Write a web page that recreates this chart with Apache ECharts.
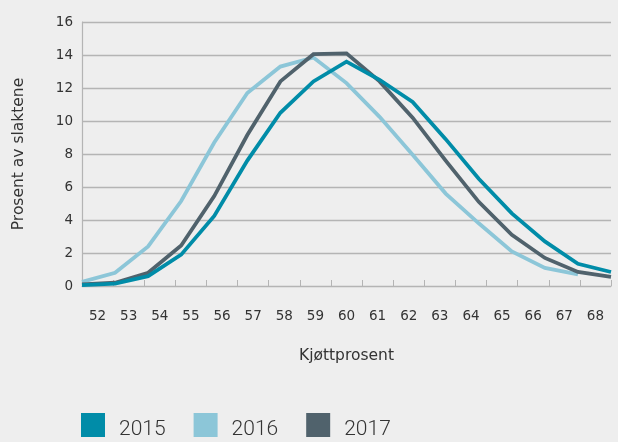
<!DOCTYPE html>
<html>
<head>
<meta charset="utf-8">
<script src="https://cdn.jsdelivr.net/npm/echarts@6/dist/echarts.min.js"></script>
<style>
  html, body { margin: 0; padding: 0; background: #eeeeee; }
  #main { width: 618px; height: 442px; }
</style>
</head>
<body>
<div id="main"></div>
<script>
// Kjøttprosent categories and share of carcasses (%) per year
const categories = ['52','53','54','55','56','57','58','59','60','61','62','63','64','65','66','67','68'];
const years = ['2015', '2016', '2017'];
const values2015 = [0.05, 0.15, 0.6, 1.9, 4.25, 7.6, 10.5, 12.4, 13.6, 12.5, 11.15, 8.9, 6.5, 4.4, 2.7, 1.35, 0.85];
const values2016 = [0.25, 0.8, 2.4, 5.15, 8.7, 11.7, 13.3, 13.85, 12.3, 10.25, 7.95, 5.6, 3.8, 2.1, 1.1, 0.7, null];
const values2017 = [0.1, 0.2, 0.8, 2.45, 5.45, 9.15, 12.4, 14.05, 14.1, 12.4, 10.2, 7.6, 5.1, 3.1, 1.7, 0.85, 0.55];
const yTicks = { min: 0, max: 16, interval: 2 };

const colors = { '2015': '#008ca8', '2016': '#8cc6d8', '2017': '#50626c' };
const gridGray = '#b4b4b4';
const textColor = '#333333';

const chart = echarts.init(document.getElementById('main'));

function lineSeries(name, data, z) {
  return {
    name: name,
    type: 'line',
    xAxisIndex: 1,
    data: data,
    z: z,
    symbol: 'none',
    connectNulls: false,
    lineStyle: { width: 3.8, color: colors[name], join: 'miter' },
    itemStyle: { color: colors[name] }
  };
}

chart.setOption({
  backgroundColor: '#eeeeee',
  animation: false,
  grid: { left: 82, right: 7, top: 22, bottom: 156 },
  legend: {
    data: years,
    left: 76,
    top: 408,
    icon: 'rect',
    itemWidth: 24,
    itemHeight: 24,
    itemGap: 28,
    formatter: '{t|{name}}',
    textStyle: {
      color: textColor,
      rich: {
        t: {
          fontFamily: 'Roboto',
          fontWeight: 300,
          fontSize: 21,
          color: textColor,
          padding: [10, 0, 0, 9]
        }
      }
    }
  },
  xAxis: [
    {
      type: 'category',
      data: categories,
      boundaryGap: true,
      name: 'Kjøttprosent',
      nameLocation: 'middle',
      nameGap: 62,
      nameTextStyle: { fontFamily: 'DejaVu Sans', fontSize: 15.5, color: textColor },
      axisLine: { show: true, lineStyle: { color: gridGray, width: 1.2 } },
      axisTick: { show: true, inside: true, length: 6, interval: 0, lineStyle: { color: gridGray } },
      axisLabel: { interval: 0, margin: 23, fontFamily: 'DejaVu Sans', fontSize: 13.5, color: textColor },
      splitLine: { show: false }
    },
    {
      type: 'category',
      data: categories,
      boundaryGap: false,
      show: false
    }
  ],
  yAxis: {
    type: 'value',
    min: yTicks.min,
    max: yTicks.max,
    interval: yTicks.interval,
    name: 'Prosent av slaktene',
    nameLocation: 'middle',
    nameGap: 55,
    nameTextStyle: { fontFamily: 'DejaVu Sans', fontSize: 15.5, color: textColor },
    axisLine: { show: true, lineStyle: { color: gridGray, width: 1.2 } },
    axisTick: { show: false },
    axisLabel: { margin: 9, fontFamily: 'DejaVu Sans', fontSize: 13.5, color: textColor },
    splitLine: { show: true, lineStyle: { color: gridGray, width: 1.3 } }
  },
  series: [
    lineSeries('2015', values2015, 4),
    lineSeries('2016', values2016, 2),
    lineSeries('2017', values2017, 3)
  ]
});
</script>
</body>
</html>
